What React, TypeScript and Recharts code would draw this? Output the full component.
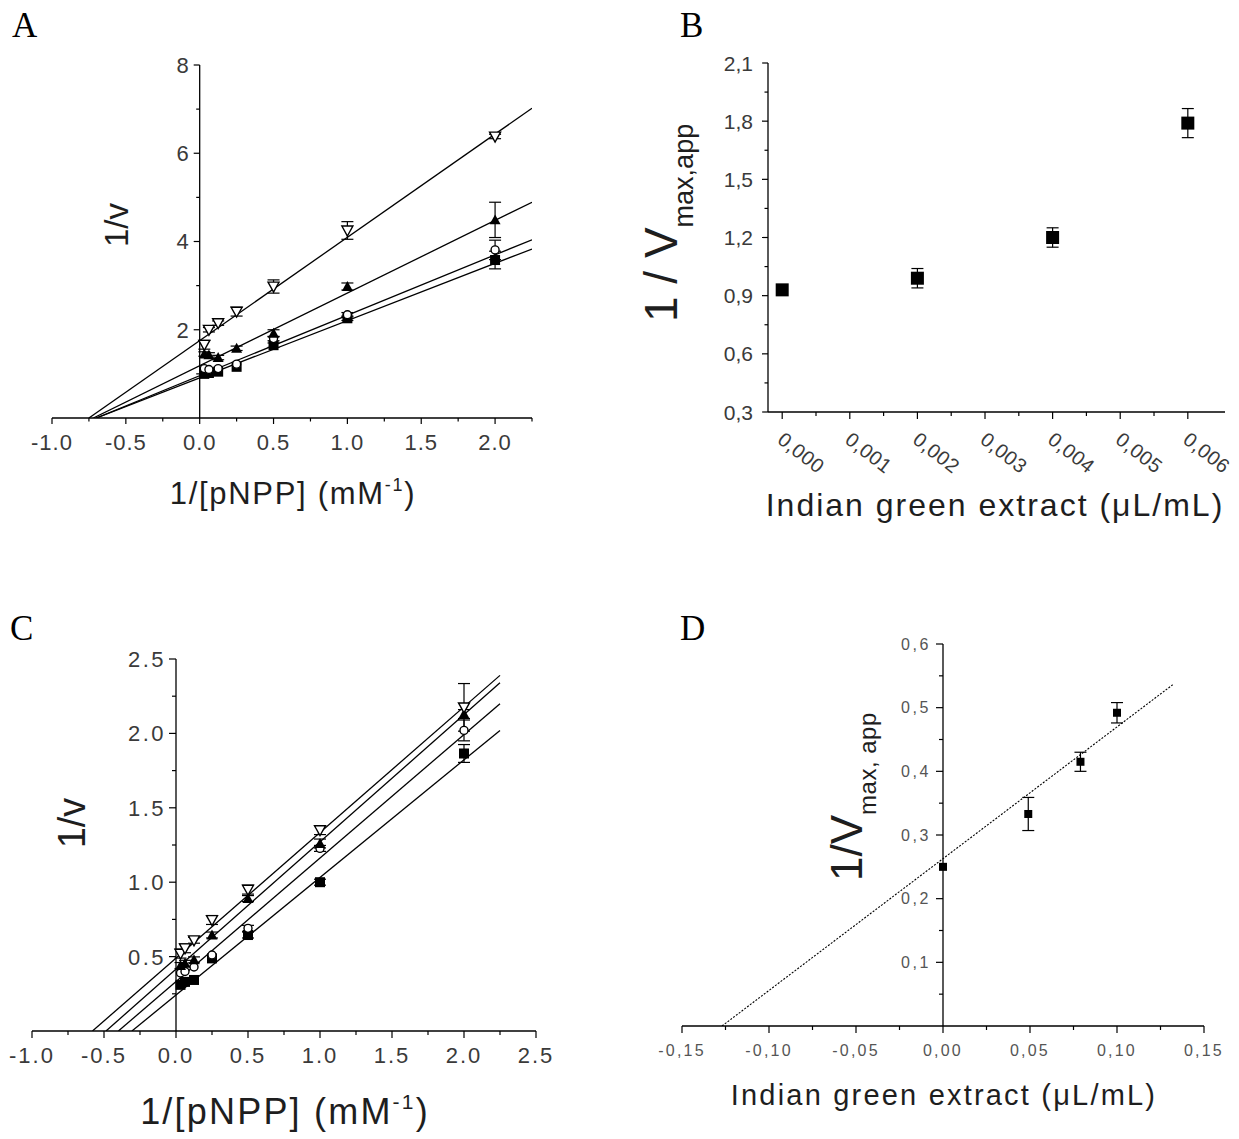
import React from "react";
import {
  ComposedChart,
  XAxis,
  YAxis,
  Line,
  Scatter,
  ErrorBar,
  ReferenceLine,
} from "recharts";

// 1/[pNPP] (mM^-1) used in both double-reciprocal plots
const invSubstrate = [0.03125, 0.0625, 0.125, 0.25, 0.5, 1, 2];

// --- panel A
const aTriDown = [1.66, 2.0, 2.15, 2.41, 2.98, 4.25, 6.38];
const aTriDownErr = [0.1, 0.05, 0.05, 0.1, 0.15, 0.2, 0.05];
const aTriUp = [1.45, 1.43, 1.37, 1.58, 1.92, 2.98, 4.49];
const aTriUpErr = [0.05, 0.05, 0.05, 0.05, 0.08, 0.08, 0.4];
const aCircle = [1.12, 1.1, 1.12, 1.22, 1.8, 2.34, 3.81];
const aCircleErr = [0, 0, 0, 0, 0.05, 0.05, 0.22];
const aSquare = [1.0, 1.02, 1.05, 1.16, 1.65, 2.26, 3.58];
const aSquareErr = [0, 0, 0, 0, 0.05, 0.05, 0.2];
// fitted lines (end points)
const aFitX = [[-0.75, 2.25], [-0.72, 2.25], [-0.7, 2.25], [-0.7, 2.25]];
const aFitY = [[0, 7.02], [0, 4.89], [0, 4.04], [0, 3.83]];

// --- panel B
const extractB = [0, 0.002, 0.004, 0.006];
const vmaxB = [0.93, 0.99, 1.2, 1.79];
const vmaxBErr = [0, 0.05, 0.05, 0.075];

// --- panel C
const cTriDown = [0.52, 0.556, 0.61, 0.746, 0.95, 1.35, 2.175];
const cTriDownErr = [0.03, 0.03, 0.02, 0.03, 0.03, 0.03, 0.16];
const cTriUp = [0.44, 0.455, 0.478, 0.645, 0.89, 1.26, 2.13];
const cTriUpErr = [0.02, 0.02, 0.02, 0.02, 0.02, 0.03, 0.03];
const cCircle = [0.39, 0.4, 0.43, 0.511, 0.69, 1.227, 2.02];
const cCircleErr = [0, 0, 0, 0, 0.02, 0.02, 0.07];
const cSquare = [0.31, 0.33, 0.343, 0.488, 0.645, 1.0, 1.865];
const cSquareErr = [0, 0, 0, 0, 0.02, 0.02, 0.06];
const cFitX = [[-0.58, 2.25], [-0.486, 2.25], [-0.4, 2.25], [-0.306, 2.25]];
const cFitY = [[0, 2.39], [0, 2.34], [0, 2.2], [0, 2.02]];

// --- panel D
const extractD = [0, 0.049, 0.079, 0.1];
const vmaxD = [0.25, 0.333, 0.415, 0.492];
const vmaxDErr = [0, 0.026, 0.015, 0.016];
const dFitX = [-0.127, 0.132];
const dFitY = [0, 0.536];

// tick values
const aXMajor = [-1, -0.5, 0, 0.5, 1, 1.5, 2];
const aXMinor = [-0.75, -0.25, 0.25, 0.75, 1.25, 1.75, 2.25];
const aYMajor = [2, 4, 6, 8];
const aYMinor = [1, 3, 5, 7];
const bXMajor = [0, 0.001, 0.002, 0.003, 0.004, 0.005, 0.006];
const bXMinor = [0.0005, 0.0015, 0.0025, 0.0035, 0.0045, 0.0055];
const bYMajor = [0.3, 0.6, 0.9, 1.2, 1.5, 1.8, 2.1];
const bYMinor = [0.45, 0.75, 1.05, 1.35, 1.65, 1.95];
const cXMajor = [-1, -0.5, 0, 0.5, 1, 1.5, 2, 2.5];
const cXMinor = [-0.75, -0.25, 0.25, 0.75, 1.25, 1.75, 2.25];
const cYMajor = [0.5, 1, 1.5, 2, 2.5];
const cYMinor = [0.25, 0.75, 1.25, 1.75, 2.25];
const dXMajor = [-0.15, -0.1, -0.05, 0, 0.05, 0.1, 0.15];
const dXMinor = [-0.125, -0.075, -0.025, 0.025, 0.075, 0.125];
const dYMajor = [0.1, 0.2, 0.3, 0.4, 0.5, 0.6];
const dYMinor = [0.05, 0.15, 0.25, 0.35, 0.45, 0.55];

const SANS = "'Liberation Sans', Arial, sans-serif";
const SERIF = "'Liberation Serif', 'Times New Roman', serif";
const Y_AXIS_W = 2;

type TickCfg = {
  major: number[];
  minor: number[];
  fmt: (v: number) => string;
  fontSize: number;
  fill: string;
  spacing: number;
  majorLen: number;
  minorLen: number;
  gap: number;
  rotate?: number;
};

const isIn = (list: number[], v: number) =>
  list.some((m) => Math.abs(m - v) < 1e-9);

const comma = (s: string) => s.replace(".", ",");

function xTick(cfg: TickCfg) {
  return (p: any) => {
    const v = p.payload.value;
    const major = isIn(cfg.major, v);
    const len = major ? cfg.majorLen : cfg.minorLen;
    let label = null;
    if (major && cfg.rotate) {
      const lx = p.x - 6;
      const ly = p.y + cfg.gap;
      label = (
        <text
          x={lx}
          y={ly}
          transform={`rotate(${cfg.rotate} ${lx} ${ly})`}
          fontSize={cfg.fontSize}
          fill={cfg.fill}
          letterSpacing={cfg.spacing}
          fontFamily={SANS}
        >
          {cfg.fmt(v)}
        </text>
      );
    } else if (major) {
      label = (
        <text
          x={p.x}
          y={p.y + cfg.gap}
          dy="0.36em"
          textAnchor="middle"
          fontSize={cfg.fontSize}
          fill={cfg.fill}
          letterSpacing={cfg.spacing}
          fontFamily={SANS}
        >
          {cfg.fmt(v)}
        </text>
      );
    }
    return (
      <g>
        <line x1={p.x} x2={p.x} y1={p.y} y2={p.y + len} stroke="#000" strokeWidth={1.2} />
        {label}
      </g>
    );
  };
}

function yTick(cfg: TickCfg, shift: number) {
  return (p: any) => {
    const v = p.payload.value;
    const major = isIn(cfg.major, v);
    const len = major ? cfg.majorLen : cfg.minorLen;
    const x = p.x + shift;
    return (
      <g>
        <line x1={x} x2={x - len} y1={p.y} y2={p.y} stroke="#000" strokeWidth={1.2} />
        {major && (
          <text
            x={x - cfg.majorLen - cfg.gap}
            y={p.y}
            dy="0.36em"
            textAnchor="end"
            fontSize={cfg.fontSize}
            fill={cfg.fill}
            letterSpacing={cfg.spacing}
            fontFamily={SANS}
          >
            {cfg.fmt(v)}
          </text>
        )}
      </g>
    );
  };
}

function Marker({ cx, cy, kind, size }: any) {
  if (cx == null || cy == null) return <g />;
  const h = size / 2;
  if (kind === "triDown")
    return (
      <path
        d={`M${cx - h},${cy - h * 0.8}L${cx + h},${cy - h * 0.8}L${cx},${cy + h}Z`}
        fill="#fff"
        stroke="#000"
        strokeWidth={1.4}
      />
    );
  if (kind === "triUp")
    return (
      <path
        d={`M${cx - h},${cy + h * 0.8}L${cx + h},${cy + h * 0.8}L${cx},${cy - h}Z`}
        fill="#000"
      />
    );
  if (kind === "circle")
    return <circle cx={cx} cy={cy} r={h * 0.8} fill="#fff" stroke="#000" strokeWidth={1.4} />;
  return <rect x={cx - h} y={cy - h} width={size} height={size} fill="#000" />;
}

const pts = (xs: number[], ys: number[], errs?: number[]) =>
  xs.map((x, i) => ({ x, y: ys[i], err: errs ? errs[i] : 0 }));

function fitLine(key: string, xs: number[], ys: number[], dash?: string, w = 1.3) {
  return (
    <Line
      key={key}
      data={pts(xs, ys)}
      dataKey="y"
      type="linear"
      stroke="#000"
      strokeWidth={w}
      strokeDasharray={dash}
      dot={false}
      activeDot={false}
      isAnimationActive={false}
    />
  );
}

function markers(key: string, xs: number[], ys: number[], errs: number[], kind: string, size: number) {
  return (
    <Scatter
      key={key}
      data={pts(xs, ys, errs)}
      isAnimationActive={false}
      shape={(p: any) => <Marker cx={p.cx} cy={p.cy} kind={kind} size={size} />}
    >
      <ErrorBar dataKey="err" direction="y" width={6} stroke="#000" strokeWidth={1.2} />
    </Scatter>
  );
}

type PanelProps = {
  left: number;
  top: number;
  width: number;
  height: number;
  plotLeft: number; // distance from chart edge to plot area
  margin: { top: number; right: number; bottom: number };
  xAxisHeight: number;
  xDomain: [number, number];
  yDomain: [number, number];
  xCfg: TickCfg;
  yCfg: TickCfg;
  yAtZero: boolean;
  children: React.ReactNode;
};

function Panel(props: PanelProps) {
  const { left, top, width, height, plotLeft, margin, xAxisHeight, xDomain, yDomain, xCfg, yCfg, yAtZero } = props;
  const plotW = width - plotLeft - margin.right;
  const shift = yAtZero ? (plotW * (0 - xDomain[0])) / (xDomain[1] - xDomain[0]) : 0;
  return (
    <div style={{ position: "absolute", left, top }}>
      <ComposedChart
        width={width}
        height={height}
        margin={{ ...margin, left: plotLeft - Y_AXIS_W }}
      >
        <XAxis
          type="number"
          dataKey="x"
          domain={xDomain}
          allowDataOverflow
          ticks={[...xCfg.major, ...xCfg.minor]}
          interval={0}
          tickLine={false}
          tickSize={0}
          tickMargin={0}
          height={xAxisHeight}
          axisLine={{ stroke: "#000", strokeWidth: 1.3 }}
          tick={xTick(xCfg)}
        />
        <YAxis
          type="number"
          dataKey="y"
          domain={yDomain}
          allowDataOverflow
          ticks={[...yCfg.major, ...yCfg.minor]}
          interval={0}
          width={Y_AXIS_W}
          tickLine={false}
          tickSize={0}
          tickMargin={0}
          axisLine={yAtZero ? false : { stroke: "#000", strokeWidth: 1.3 }}
          tick={yTick(yCfg, shift)}
        />
        {yAtZero && <ReferenceLine x={0} stroke="#000" strokeWidth={1.3} />}
        {props.children}
      </ComposedChart>
    </div>
  );
}

const baseTick = { fill: "#3a3a3a", majorLen: 6, minorLen: 3.5 };

export default function App() {
  return (
    <div
      style={{
        position: "absolute",
        left: 0,
        top: 0,
        width: 1239,
        height: 1139,
        background: "#fff",
        fontFamily: SANS,
      }}
    >
      {/* A */}
      <Panel
        left={0}
        top={40}
        width={560}
        height={420}
        plotLeft={52}
        margin={{ top: 25, right: 28, bottom: 0 }}
        xAxisHeight={42}
        xDomain={[-1, 2.25]}
        yDomain={[0, 8]}
        yAtZero
        xCfg={{ ...baseTick, major: aXMajor, minor: aXMinor, fmt: (v) => v.toFixed(1), fontSize: 22, spacing: 1, gap: 24 }}
        yCfg={{ ...baseTick, major: aYMajor, minor: aYMinor, fmt: (v) => String(v), fontSize: 22, spacing: 0, gap: 5 }}
      >
        {aFitX.map((xs, i) => fitLine(`af${i}`, xs, aFitY[i]))}
        {markers("a4", invSubstrate, aSquare, aSquareErr, "square", 10)}
        {markers("a3", invSubstrate, aCircle, aCircleErr, "circle", 10)}
        {markers("a2", invSubstrate, aTriUp, aTriUpErr, "triUp", 11)}
        {markers("a1", invSubstrate, aTriDown, aTriDownErr, "triDown", 11)}
      </Panel>

      {/* B */}
      <Panel
        left={700}
        top={40}
        width={539}
        height={440}
        plotLeft={68}
        margin={{ top: 23, right: 14, bottom: 0 }}
        xAxisHeight={68}
        xDomain={[-0.00021, 0.00655]}
        yDomain={[0.3, 2.1]}
        yAtZero={false}
        xCfg={{ ...baseTick, majorLen: 7, minorLen: 4, major: bXMajor, minor: bXMinor, fmt: (v) => comma(v.toFixed(3)), fontSize: 20, spacing: 0.5, gap: 30, rotate: 38 }}
        yCfg={{ ...baseTick, majorLen: 6, minorLen: 3.5, major: bYMajor, minor: bYMinor, fmt: (v) => comma(v.toFixed(1)), fontSize: 21, spacing: 0, gap: 9 }}
      >
        {markers("b", extractB, vmaxB, vmaxBErr, "square", 13)}
      </Panel>

      {/* C */}
      <Panel
        left={0}
        top={630}
        width={570}
        height={450}
        plotLeft={32}
        margin={{ top: 29, right: 34, bottom: 0 }}
        xAxisHeight={49}
        xDomain={[-1, 2.5]}
        yDomain={[0, 2.5]}
        yAtZero
        xCfg={{ ...baseTick, majorLen: 7, minorLen: 4, major: cXMajor, minor: cXMinor, fmt: (v) => v.toFixed(1), fontSize: 22, spacing: 2, gap: 24 }}
        yCfg={{ ...baseTick, majorLen: 7, minorLen: 4, major: cYMajor, minor: cYMinor, fmt: (v) => v.toFixed(1), fontSize: 22, spacing: 2.5, gap: 3 }}
      >
        {cFitX.map((xs, i) => fitLine(`cf${i}`, xs, cFitY[i]))}
        {markers("c4", invSubstrate, cSquare, cSquareErr, "square", 10)}
        {markers("c3", invSubstrate, cCircle, cCircleErr, "circle", 10)}
        {markers("c2", invSubstrate, cTriUp, cTriUpErr, "triUp", 11)}
        {markers("c1", invSubstrate, cTriDown, cTriDownErr, "triDown", 11)}
      </Panel>

      {/* D */}
      <Panel
        left={640}
        top={620}
        width={599}
        height={450}
        plotLeft={42}
        margin={{ top: 24, right: 35, bottom: 0 }}
        xAxisHeight={44}
        xDomain={[-0.15, 0.15]}
        yDomain={[0, 0.6]}
        yAtZero
        xCfg={{ ...baseTick, fill: "#555", majorLen: 7, minorLen: 4, major: dXMajor, minor: dXMinor, fmt: (v) => comma(v.toFixed(2)), fontSize: 16, spacing: 2.2, gap: 24 }}
        yCfg={{ ...baseTick, fill: "#555", majorLen: 7, minorLen: 4, major: dYMajor, minor: dYMinor, fmt: (v) => comma(v.toFixed(1)), fontSize: 16, spacing: 2.6, gap: 5 }}
      >
        {fitLine("df", dFitX, dFitY, "2 1.5", 1.1)}
        {markers("d", extractD, vmaxD, vmaxDErr, "square", 8)}
      </Panel>

      {/* panel letters and axis titles */}
      <svg
        width={1239}
        height={1139}
        style={{ position: "absolute", left: 0, top: 0, pointerEvents: "none" }}
      >
        <g fontFamily={SERIF} fontSize={35} fill="#000">
          <text x={12} y={37}>A</text>
          <text x={680} y={37}>B</text>
          <text x={10} y={640}>C</text>
          <text x={680} y={640}>D</text>
        </g>
        <g fontFamily={SANS} fill="#1e1e1e">
          <text x={293} y={504} textAnchor="middle" fontSize={31} letterSpacing={1.7}>
            1/[pNPP] (mM<tspan fontSize={18} dy={-13}>-1</tspan>
            <tspan dy={13}>)</tspan>
          </text>
          <text x={128} y={225} transform="rotate(-90 128 225)" textAnchor="middle" fontSize={33}>
            1/v
          </text>

          <text x={995} y={516} textAnchor="middle" fontSize={32} letterSpacing={2}>
            Indian green extract (μL/mL)
          </text>
          <text x={677} y={322} transform="rotate(-90 677 322)" fontSize={46}>
            1 / V<tspan fontSize={27} dy={16}>max,app</tspan>
          </text>

          <text x={285} y={1124} textAnchor="middle" fontSize={36} letterSpacing={2.2}>
            1/[pNPP] (mM<tspan fontSize={21} dy={-15}>-1</tspan>
            <tspan dy={15}>)</tspan>
          </text>
          <text x={85} y={823} transform="rotate(-90 85 823)" textAnchor="middle" fontSize={38}>
            1/v
          </text>

          <text x={944} y={1105} textAnchor="middle" fontSize={29} letterSpacing={2.2}>
            Indian green extract (μL/mL)
          </text>
          <text x={862} y={881} transform="rotate(-90 862 881)" fontSize={44}>
            1/V<tspan fontSize={24} dy={14} letterSpacing={0.5}>max, app</tspan>
          </text>
        </g>
      </svg>
    </div>
  );
}
